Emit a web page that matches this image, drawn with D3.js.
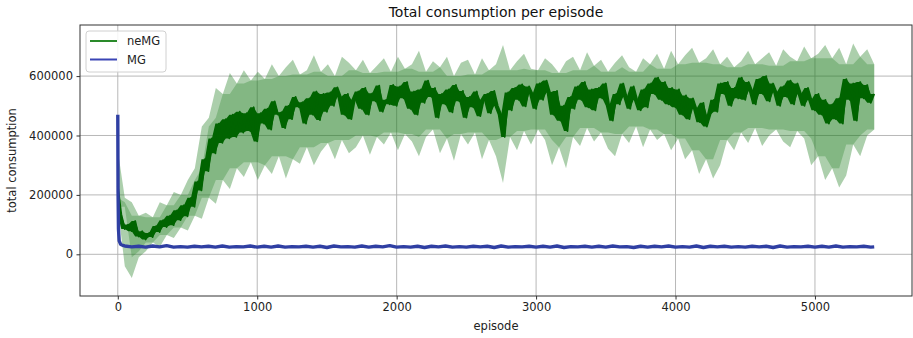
<!DOCTYPE html>
<html>
<head>
<meta charset="utf-8">
<script src="https://cdn.jsdelivr.net/npm/d3@7"></script>
<style>
  html, body { margin: 0; padding: 0; background: #fff; }
  svg { display: block; font-family: "DejaVu Sans", sans-serif; }
</style>
</head>
<body>
<svg id="chart" width="913" height="338"></svg>
<script>
// episode samples of the neMG mean line (every 25 episodes)
const neMGEpisodes = d3.range(0, 5426, 25);

// neMG mean consumption, thousands
const neMGMean = [
  230, 135, 85, 100, 78, 112, 60, 78, 50, 72, 58, 95, 75, 115, 92, 130, 98, 148, 115, 165,
  128, 190, 160, 245, 215, 320, 280, 390, 340, 440, 375, 455, 390, 470, 395, 480, 410, 475, 415, 495,
  380, 475, 440, 490, 420, 515, 470, 478, 425, 500, 455, 530, 495, 512, 440, 525, 470, 548, 452, 540,
  480, 545, 500, 562, 530, 470, 540, 455, 520, 548, 490, 560, 470, 542, 515, 568, 480, 520, 505, 570,
  500, 565, 525, 580, 490, 548, 470, 555, 510, 585, 530, 560, 460, 540, 505, 555, 478, 570, 515, 550,
  460, 530, 495, 548, 465, 520, 540, 475, 550, 500, 470, 395, 545, 485, 560, 520, 572, 498, 565, 540,
  490, 575, 520, 585, 545, 470, 550, 450, 500, 415, 530, 490, 565, 520, 580, 495, 555, 485, 560, 525,
  575, 500, 450, 540, 505, 575, 530, 490, 565, 520, 485, 555, 495, 575, 540, 595, 520, 580, 505, 560,
  495, 555, 470, 535, 455, 525, 490, 445, 510, 430, 470, 520, 480, 575, 540, 580, 500, 560, 525, 595,
  520, 580, 550, 505, 590, 540, 600, 515, 575, 545, 500, 565, 530, 585, 505, 575, 540, 500, 560, 520,
  485, 540, 470, 520, 440, 505, 455, 525, 440, 590, 520, 575, 450, 580, 525, 570, 510, 540
];

// neMG spread band (upper / lower), thousands, 109 samples over 0..5425
const neMGBandHigh = [
  350, 190, 175, 130, 140, 125, 175, 165, 210, 200, 250, 290, 430, 460, 560, 540, 610, 575, 620, 585,
  615, 590, 640, 600, 630, 655, 605, 620, 670, 615, 640, 600, 665, 645, 620, 655, 610, 635, 660, 615,
  665, 625, 640, 685, 615, 650, 630, 665, 600, 645, 655, 605, 660, 620, 640, 705, 620, 650, 675, 625,
  620, 660, 640, 610, 650, 665, 620, 680, 635, 655, 615, 645, 670, 630, 615, 660, 640, 675, 625, 685,
  640, 670, 695, 645, 660, 690, 640, 665, 630, 650, 685, 640, 660, 680, 635, 690, 665, 650, 700, 660,
  675, 705, 660, 695, 640, 710, 665, 690, 640
];
const neMGBandLow = [
  160, -40, -80, -10, 10, 40, 25, 65, 55, 90, 80, 130, 120, 190, 170, 250, 220, 290, 260, 310,
  250, 300, 270, 330, 255, 320, 305, 360, 300, 345, 375, 320, 385, 340, 360, 400, 335, 395, 370, 410,
  350, 405, 380, 330, 395, 420, 340, 390, 315, 405, 370, 410, 320, 385, 330, 240, 395, 350, 415, 370,
  420, 385, 300, 360, 290, 395, 365, 425, 380, 410, 355, 330, 405, 375, 430, 360, 420, 385, 405, 350,
  390, 320, 350, 270, 320, 255, 300, 385, 350, 410, 375, 425, 365, 400, 420, 380, 360, 415, 390, 300,
  330, 250, 290, 225, 265, 370, 330, 400, 420
];

// MG samples
const mgEpisodes = [0, 2, 5, 10, 20, 35, ...d3.range(50, 5401, 50), 5425];
const mgValues = [
  470, 210, 85, 45, 34, 30,
  28, 25, 27, 24, 28, 25, 29, 24, 26, 24, 27, 25, 27, 24, 28, 24, 26, 25, 28, 24,
  27, 24, 28, 24, 26, 25, 27, 24, 27, 23, 28, 25, 26, 24, 28, 24, 27, 25, 29, 24,
  26, 24, 27, 23, 27, 25, 28, 24, 26, 24, 27, 25, 27, 23, 28, 24, 26, 25, 27, 24,
  27, 24, 28, 23, 26, 25, 27, 24, 27, 24, 28, 25, 26, 23, 27, 24, 27, 25, 28, 24,
  26, 24, 28, 23, 27, 25, 27, 24, 26, 24, 27, 25, 27, 23, 28, 24, 26, 25, 27, 24,
  27, 24, 28, 24, 26, 25, 27, 24,
  25
];

const xTicks = [0, 1000, 2000, 3000, 4000, 5000];
const yTicks = [0, 200000, 400000, 600000];
const seriesNames = ['neMG', 'MG'];

const width = 913;
const height = 338;
const margin = { top: 25, right: 1, bottom: 42, left: 80 };
const innerWidth = width - margin.left - margin.right;
const innerHeight = height - margin.top - margin.bottom;

const bandEpisodes = neMGBandHigh.map((_, i) => (i * 5425) / (neMGBandHigh.length - 1));
const bandData = bandEpisodes.map((ep, i) => {
  const hiNear = neMGBandHigh.slice(Math.max(0, i - 1), i + 2);
  const loNear = neMGBandLow.slice(Math.max(0, i - 1), i + 2);
  return {
    ep,
    hi: neMGBandHigh[i] * 1000,
    lo: neMGBandLow[i] * 1000,
    coreHi: d3.min(hiNear) * 1000,
    coreLo: d3.max(loNear) * 1000,
  };
});
const meanData = neMGEpisodes.map((ep, i) => {
  const near = neMGMean.slice(i, i + 2);
  return { ep, v: neMGMean[i] * 1000, hi: d3.max(near) * 1000, lo: d3.min(near) * 1000 };
});
const mgData = mgEpisodes.map((ep, i) => ({ ep, v: mgValues[i] * 1000 }));

const x = d3.scaleLinear().domain([-271, 5696]).range([0, innerWidth]);
const y = d3.scaleLinear().domain([-140400, 772000]).range([innerHeight, 0]);

const svg = d3.select('#chart');
const root = svg.append('g').attr('transform', `translate(${margin.left}, ${margin.top})`);

svg.append('defs').append('clipPath').attr('id', 'plot-clip')
  .append('rect').attr('width', innerWidth).attr('height', innerHeight);

// grid
const grid = root.append('g').attr('stroke', '#b0b0b0').attr('stroke-width', 0.9);
grid.selectAll('.gy').data(yTicks).enter().append('line')
  .attr('x1', 0).attr('x2', innerWidth)
  .attr('y1', (d) => y(d)).attr('y2', (d) => y(d));
grid.selectAll('.gx').data(xTicks).enter().append('line')
  .attr('y1', 0).attr('y2', innerHeight)
  .attr('x1', (d) => x(d)).attr('x2', (d) => x(d));

const plot = root.append('g').attr('clip-path', 'url(#plot-clip)');

plot.append('path')
  .datum(bandData)
  .attr('fill', '#1a7a1a')
  .attr('fill-opacity', 0.36)
  .attr('d', d3.area().x((d) => x(d.ep)).y0((d) => y(d.lo)).y1((d) => y(d.hi)));

plot.append('path')
  .datum(bandData)
  .attr('fill', '#1a7a1a')
  .attr('fill-opacity', 0.28)
  .attr('d', d3.area().x((d) => x(d.ep)).y0((d) => y(d.coreLo)).y1((d) => y(d.coreHi)));

plot.append('path')
  .datum(meanData)
  .attr('fill', '#006400')
  .attr('d', d3.area().x((d) => x(d.ep)).y0((d) => y(d.lo)).y1((d) => y(d.hi)));

plot.append('path')
  .datum(meanData)
  .attr('fill', 'none')
  .attr('stroke', '#006400')
  .attr('stroke-width', 1.8)
  .attr('stroke-linejoin', 'round')
  .attr('d', d3.line().x((d) => x(d.ep)).y((d) => y(d.v)));

plot.append('path')
  .datum(mgData)
  .attr('fill', 'none')
  .attr('stroke', '#2f3fa3')
  .attr('stroke-width', 3.4)
  .attr('stroke-linejoin', 'round')
  .attr('d', d3.line().x((d) => x(d.ep)).y((d) => y(d.v)));

// axes
root.append('g')
  .call(d3.axisLeft(y).tickValues(yTicks).tickSize(3.5).tickPadding(3.5).tickFormat(d3.format('d')))
  .call((g) => g.select('.domain').remove())
  .call((g) => g.selectAll('text').attr('fill', '#222').attr('font-size', 11.5).attr('font-family', 'DejaVu Sans'))
  .call((g) => g.selectAll('line').attr('stroke', '#333'));
root.append('g')
  .attr('transform', `translate(0, ${innerHeight})`)
  .call(d3.axisBottom(x).tickValues(xTicks).tickSize(3.5).tickPadding(3.5).tickFormat(d3.format('d')))
  .call((g) => g.select('.domain').remove())
  .call((g) => g.selectAll('text').attr('fill', '#222').attr('font-size', 11.5).attr('font-family', 'DejaVu Sans'))
  .call((g) => g.selectAll('line').attr('stroke', '#333'));

root.append('rect')
  .attr('width', innerWidth).attr('height', innerHeight)
  .attr('fill', 'none').attr('stroke', '#333').attr('stroke-width', 1);

// labels
svg.append('text')
  .attr('x', margin.left + innerWidth / 2).attr('y', 17)
  .attr('text-anchor', 'middle').attr('font-size', 14).attr('fill', '#111')
  .text('Total consumption per episode');
svg.append('text')
  .attr('x', margin.left + innerWidth / 2).attr('y', 330)
  .attr('text-anchor', 'middle').attr('font-size', 11.5).attr('fill', '#222')
  .text('episode');
svg.append('text')
  .attr('transform', `translate(16, ${margin.top + innerHeight / 2}) rotate(-90)`)
  .attr('text-anchor', 'middle').attr('font-size', 11.5).attr('fill', '#222')
  .text('total consumption');

// legend
const legend = root.append('g').attr('transform', 'translate(6, 6)');
legend.append('rect')
  .attr('width', 80).attr('height', 41).attr('rx', 3)
  .attr('fill', '#fff').attr('fill-opacity', 0.85)
  .attr('stroke', '#d0d0d0');
const legendColors = ['#2a8a2a', '#3a44b5'];
seriesNames.forEach((name, i) => {
  const row = legend.append('g').attr('transform', `translate(0, ${10 + i * 18.5})`);
  row.append('line').attr('x1', 4).attr('x2', 31).attr('stroke', legendColors[i]).attr('stroke-width', 2);
  row.append('text').attr('x', 41).attr('y', 4).attr('font-size', 11.5).attr('fill', '#222').text(name);
});
</script>
</body>
</html>
